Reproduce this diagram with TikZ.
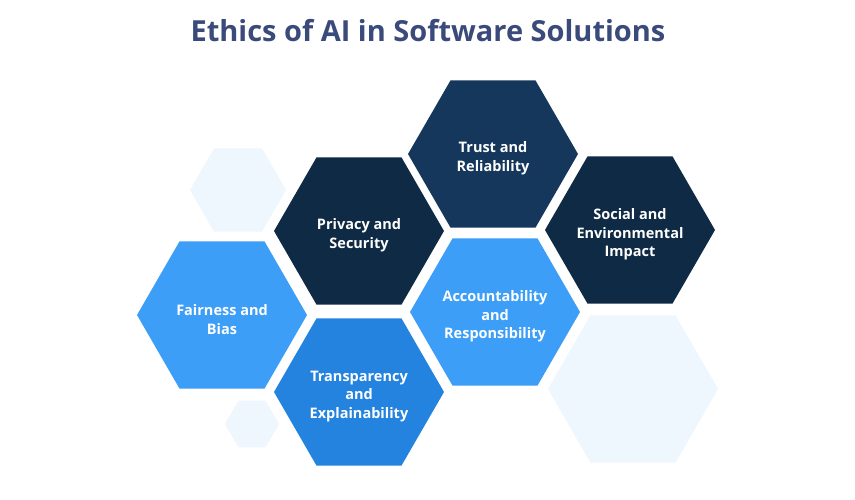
\documentclass[tikz,border=0pt]{standalone}
\usepackage{fontspec}
\setmainfont{Open Sans}
\usetikzlibrary{shapes.geometric}
\definecolor{darkA}{HTML}{0F2A44}
\definecolor{darkB}{HTML}{15375B}
\definecolor{brightblue}{HTML}{3C9EF7}
\definecolor{midblue}{HTML}{2383DF}
\definecolor{lightblue}{HTML}{EEF6FE}
\definecolor{titleblue}{HTML}{3A4A7B}
\tikzset{
  hexa/.style={regular polygon, regular polygon sides=6, inner sep=0pt, outer sep=0pt,
    minimum size=#1, draw=none},
  hexlabel/.style={text=white, align=center, yshift=-4.5pt,
    font=\fontsize{14.5}{18.7}\selectfont\bfseries},
  bighex/.style={hexa=170pt, label={[hexlabel]center:#1}},
  ghost/.style={hexa=#1, fill=lightblue},
}
\begin{document}
\begin{tikzpicture}[x=1pt,y=-1pt]
\useasboundingbox[fill=white] (0,0) rectangle (855,500);
\node[font=\fontsize{29}{32}\selectfont\bfseries, text=titleblue] (title) at (428,31) {Ethics of AI in Software Solutions};
\node[ghost=96pt] (g1) at (238,190) {};
\node[ghost=54pt] (g2) at (252,424) {};
\node[ghost=170pt] (g3) at (633,389) {};
\node[bighex={Trust and\\Reliability}, fill=darkB] (trust) at (493,154) {};
\node[bighex={Privacy and\\Security}, fill=darkA] (privacy) at (359,231) {};
\node[bighex={Social and\\Environmental\\Impact}, fill=darkA] (social) at (630,230) {};
\node[bighex={Fairness and\\Bias}, fill=brightblue] (fair) at (222,315) {};
\node[bighex={Accountability\\and\\Responsibility}, fill=brightblue] (account) at (495,312) {};
\node[bighex={Transparency\\and\\Explainability}, fill=midblue] (transp) at (359,392) {};
\end{tikzpicture}
\end{document}
